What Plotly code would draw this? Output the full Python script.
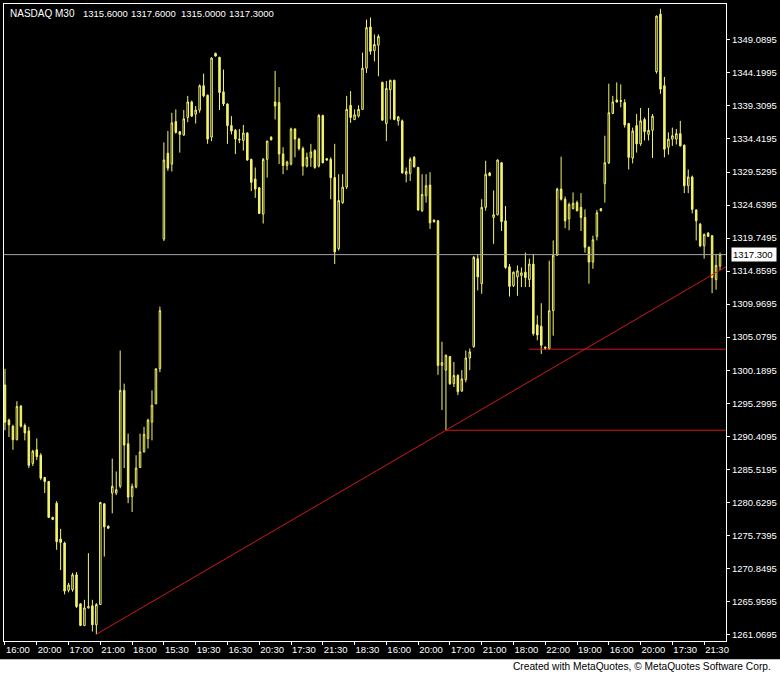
import plotly.graph_objects as go

# ---- data (NASDAQ M30 candles) ----
open_ = [1298.0, 1292.8, 1291.9, 1289.9, 1294.9, 1292.0, 1291.2, 1286.4, 1288.4, 1287.6,
         1284.3, 1283.7, 1278.1, 1280.5, 1275.2, 1274.6, 1267.6, 1267.7, 1269.9, 1265.6,
         1262.4, 1265.0, 1265.3, 1262.5, 1265.5, 1280.4, 1277.1, 1282.0, 1282.0, 1283.0,
         1297.2, 1289.3, 1281.5, 1282.9, 1285.8, 1288.1, 1290.1, 1292.5, 1295.2, 1300.4,
         1319.6, 1332.3, 1330.7, 1337.0, 1335.5, 1335.0, 1337.6, 1339.9, 1338.1, 1338.7,
         1342.3, 1340.9, 1334.7, 1347.1, 1346.5, 1341.4, 1339.6, 1336.4, 1335.7, 1334.4,
         1334.2, 1335.3, 1331.4, 1328.5, 1327.2, 1323.3, 1331.4, 1334.7, 1339.9, 1339.8,
         1332.2, 1330.5, 1330.7, 1335.9, 1334.4, 1333.0, 1330.4, 1331.7, 1332.7, 1330.4,
         1337.9, 1331.5, 1331.4, 1328.7, 1318.2, 1325.0, 1327.3, 1339.4, 1337.3, 1337.8,
         1338.8, 1344.9, 1351.0, 1347.5, 1348.3, 1342.8, 1336.7, 1341.7, 1343.1, 1337.1,
         1337.1, 1329.2, 1329.3, 1331.7, 1330.2, 1323.8, 1326.0, 1327.6, 1322.4, 1322.3,
         1300.9, 1300.2, 1302.2, 1298.2, 1299.4, 1297.1, 1298.8, 1302.0, 1303.7, 1316.7,
         1313.0, 1324.3, 1329.4, 1322.8, 1323.2, 1330.9, 1322.3, 1315.5, 1312.7, 1314.0,
         1314.2, 1314.7, 1313.6, 1315.9, 1306.9, 1306.7, 1303.4, 1303.4, 1309.0, 1317.2,
         1327.0, 1325.5, 1322.6, 1324.1, 1325.0, 1324.3, 1322.8, 1318.4, 1316.2, 1320.0,
         1324.1, 1327.8, 1330.9, 1338.2, 1340.2, 1340.1, 1339.8, 1336.7, 1331.6, 1336.4,
         1333.7, 1337.3, 1335.1, 1335.7, 1344.4, 1352.9, 1342.3, 1333.2, 1334.4, 1334.4,
         1335.2, 1333.5, 1327.5, 1328.8, 1323.9, 1321.8, 1318.6, 1320.5, 1320.1, 1313.6,
         1315.6]
high = [1300.4, 1293.0, 1292.1, 1295.6, 1295.0, 1292.3, 1291.8, 1288.4, 1290.1, 1287.9,
        1284.4, 1283.8, 1278.5, 1280.8, 1276.7, 1274.8, 1268.7, 1270.2, 1270.3, 1265.7,
        1266.2, 1273.1, 1266.2, 1265.7, 1280.7, 1280.5, 1277.2, 1287.1, 1285.2, 1303.1,
        1298.2, 1290.8, 1283.4, 1287.6, 1290.8, 1291.8, 1293.0, 1297.2, 1300.4, 1309.6,
        1333.9, 1335.6, 1338.3, 1338.8, 1335.6, 1338.7, 1340.8, 1340.1, 1339.3, 1342.5,
        1344.1, 1341.0, 1346.5, 1347.2, 1346.6, 1344.7, 1339.7, 1337.8, 1335.9, 1335.9,
        1336.5, 1335.4, 1331.5, 1330.2, 1327.3, 1331.6, 1334.2, 1334.8, 1344.5, 1342.1,
        1333.2, 1331.2, 1336.1, 1336.0, 1334.6, 1333.3, 1332.4, 1333.7, 1332.9, 1338.1,
        1338.0, 1331.6, 1331.7, 1333.7, 1329.2, 1329.2, 1340.8, 1341.5, 1338.8, 1339.4,
        1347.2, 1352.1, 1352.4, 1349.9, 1349.9, 1342.9, 1343.0, 1343.2, 1343.2, 1337.8,
        1337.3, 1330.2, 1331.7, 1331.9, 1330.3, 1329.2, 1329.2, 1329.5, 1322.5, 1322.4,
        1304.4, 1302.5, 1302.3, 1301.4, 1299.6, 1300.2, 1303.1, 1303.4, 1317.1, 1317.4,
        1325.5, 1331.2, 1329.5, 1326.8, 1331.4, 1331.0, 1324.5, 1315.9, 1314.8, 1315.7,
        1315.4, 1317.6, 1316.7, 1317.4, 1308.3, 1310.1, 1303.7, 1316.4, 1319.4, 1327.2,
        1331.8, 1325.9, 1325.0, 1326.5, 1325.3, 1326.4, 1324.0, 1318.5, 1320.1, 1323.9,
        1324.2, 1334.9, 1342.6, 1340.8, 1342.8, 1342.5, 1340.3, 1336.8, 1336.1, 1338.1,
        1339.0, 1337.6, 1339.0, 1338.1, 1352.7, 1353.7, 1343.6, 1335.4, 1336.1, 1335.9,
        1337.1, 1333.6, 1329.9, 1329.0, 1324.0, 1322.0, 1320.4, 1320.6, 1320.2, 1317.4,
        1317.6]
low = [1291.3, 1290.3, 1288.4, 1289.8, 1291.7, 1289.8, 1285.7, 1286.0, 1286.9, 1283.9,
       1282.0, 1278.3, 1278.0, 1273.6, 1270.6, 1267.0, 1267.3, 1267.4, 1265.0, 1262.3,
       1262.3, 1264.9, 1261.5, 1261.1, 1265.5, 1272.6, 1276.7, 1279.0, 1281.7, 1282.7,
       1285.7, 1280.5, 1279.2, 1282.7, 1285.7, 1288.0, 1288.6, 1289.8, 1295.2, 1299.9,
       1319.3, 1329.7, 1329.6, 1335.2, 1332.4, 1334.9, 1336.9, 1337.7, 1336.7, 1338.3,
       1340.6, 1333.7, 1334.1, 1346.6, 1338.7, 1339.3, 1333.7, 1335.1, 1332.2, 1333.8,
       1332.7, 1331.2, 1326.7, 1325.7, 1323.3, 1321.9, 1328.7, 1334.2, 1337.3, 1330.7,
       1329.2, 1329.8, 1330.5, 1331.7, 1332.7, 1329.0, 1330.2, 1330.3, 1330.0, 1330.2,
       1330.8, 1331.2, 1325.5, 1315.9, 1317.9, 1324.8, 1327.0, 1336.8, 1337.2, 1337.6,
       1338.7, 1344.2, 1346.9, 1345.9, 1343.7, 1337.1, 1334.1, 1337.3, 1337.2, 1336.4,
       1329.3, 1328.0, 1328.2, 1330.2, 1323.8, 1323.6, 1325.0, 1321.1, 1322.0, 1299.5,
       1294.3, 1291.3, 1298.0, 1297.7, 1296.5, 1297.0, 1298.4, 1300.2, 1303.5, 1312.0,
       1311.5, 1323.8, 1328.9, 1318.9, 1323.1, 1320.8, 1315.2, 1311.1, 1312.5, 1311.2,
       1312.5, 1312.5, 1312.5, 1305.3, 1304.6, 1302.6, 1303.2, 1303.2, 1305.3, 1317.2,
       1325.3, 1321.2, 1320.9, 1324.0, 1323.7, 1320.8, 1317.6, 1313.0, 1315.2, 1319.4,
       1323.7, 1325.0, 1330.7, 1338.1, 1339.8, 1339.1, 1336.1, 1329.9, 1330.8, 1332.4,
       1333.4, 1334.2, 1334.2, 1331.6, 1344.1, 1341.1, 1331.7, 1332.1, 1333.4, 1333.6,
       1333.3, 1326.4, 1326.4, 1323.4, 1319.4, 1318.4, 1316.7, 1319.9, 1311.6, 1312.1,
       1315.0]
close = [1292.5, 1292.1, 1289.9, 1294.8, 1291.9, 1290.9, 1286.1, 1288.2, 1287.4, 1284.2,
         1283.7, 1278.4, 1278.4, 1274.8, 1274.7, 1267.5, 1268.4, 1269.9, 1265.2, 1262.4,
         1265.0, 1265.2, 1262.5, 1265.5, 1280.6, 1277.0, 1276.8, 1283.0, 1282.5, 1297.2,
         1289.1, 1281.4, 1283.0, 1285.7, 1288.1, 1290.7, 1292.8, 1295.0, 1300.4, 1309.0,
         1331.3, 1330.1, 1336.8, 1335.4, 1335.1, 1337.4, 1339.9, 1337.8, 1338.7, 1342.3,
         1340.8, 1334.4, 1346.4, 1346.7, 1341.3, 1339.6, 1336.4, 1335.6, 1334.4, 1334.3,
         1335.3, 1331.3, 1328.0, 1327.0, 1323.4, 1331.4, 1334.1, 1334.3, 1339.3, 1332.2,
         1330.5, 1331.0, 1335.9, 1334.4, 1333.0, 1330.4, 1331.7, 1332.5, 1330.2, 1337.9,
         1330.9, 1331.3, 1328.7, 1317.7, 1325.3, 1327.3, 1338.8, 1337.6, 1338.0, 1338.8,
         1344.9, 1350.9, 1347.4, 1348.4, 1349.6, 1337.2, 1341.9, 1343.1, 1337.3, 1337.7,
         1329.4, 1329.6, 1331.4, 1330.3, 1323.9, 1326.2, 1327.5, 1322.0, 1322.2, 1300.9,
         1301.3, 1302.4, 1298.2, 1299.4, 1297.0, 1298.9, 1302.0, 1302.9, 1316.9, 1314.0,
         1324.3, 1329.2, 1329.0, 1323.2, 1331.3, 1322.2, 1315.4, 1312.6, 1314.7, 1314.9,
         1314.6, 1313.9, 1315.9, 1305.6, 1305.4, 1303.9, 1303.6, 1309.0, 1317.2, 1327.0,
         1325.5, 1322.3, 1324.7, 1324.9, 1323.8, 1322.8, 1318.4, 1316.2, 1319.5, 1323.5,
         1323.8, 1330.9, 1338.3, 1339.9, 1339.9, 1340.0, 1336.5, 1331.7, 1335.6, 1333.7,
         1337.1, 1335.5, 1335.7, 1337.8, 1352.6, 1341.8, 1332.9, 1334.4, 1334.9, 1335.2,
         1333.4, 1327.5, 1328.8, 1324.0, 1322.3, 1318.6, 1320.3, 1320.0, 1313.9, 1315.7,
         1317.3]
bars = list(range(len(open_)))

time_labels = ["16:00", "20:00", "17:00", "21:00", "18:00", "15:30", "19:30", "16:30",
               "20:30", "17:30", "21:30", "18:30", "16:00", "20:00", "17:00", "21:00",
               "18:00", "22:00", "19:00", "16:00", "20:00", "17:30", "21:30"]
time_label_bars = [0, 8, 16, 24, 32, 40, 48, 56, 64, 72, 80, 88, 96, 104, 112, 120,
                   128, 136, 144, 152, 160, 168, 176]
price_labels = ["1261.0695", "1265.9595", "1270.8495", "1275.7395", "1280.6295",
                "1285.5195", "1290.4095", "1295.2995", "1300.1895", "1305.0795",
                "1309.9695", "1314.8595", "1319.7495", "1324.6395", "1329.5295",
                "1334.4195", "1339.3095", "1344.1995", "1349.0895"]

symbol = "NASDAQ M30"
trend_bars = [23, 111]
trend_prices = [1261.1, 1291.3]
level_start_bars = [111, 132]
level_prices = [1291.3, 1303.3]

# ---- figure ----
YEL = "#f4f46c"
RED = "#d01818"
X_MIN, X_MAX = -0.25, 181.5
Y_MIN, Y_MAX = 1260.1, 1354.4

fig = go.Figure()

# last price line
fig.add_trace(go.Scatter(x=[X_MIN, X_MAX], y=[close[-1], close[-1]], mode="lines",
                         line=dict(color="#a4a4ac", width=1), hoverinfo="skip",
                         showlegend=False))

fig.add_trace(go.Candlestick(
    x=bars, open=open_, high=high, low=low, close=close,
    increasing=dict(line=dict(color=YEL, width=1), fillcolor="black"),
    decreasing=dict(line=dict(color=YEL, width=1), fillcolor=YEL),
    whiskerwidth=0, showlegend=False))

# trend line (ray through two lows)
slope = (trend_prices[1] - trend_prices[0]) / (trend_bars[1] - trend_bars[0])
fig.add_trace(go.Scatter(x=[trend_bars[0], X_MAX],
                         y=[trend_prices[0], trend_prices[0] + slope * (X_MAX - trend_bars[0])],
                         mode="lines", line=dict(color=RED, width=1),
                         hoverinfo="skip", showlegend=False))
for sb, lp in zip(level_start_bars, level_prices):
    fig.add_trace(go.Scatter(x=[sb, X_MAX], y=[lp, lp], mode="lines",
                             line=dict(color=RED, width=1), hoverinfo="skip",
                             showlegend=False))

FONT = "Liberation Sans"
fig.update_layout(
    width=780, height=675,
    margin=dict(l=3, r=50, t=3, b=34),
    paper_bgcolor="black", plot_bgcolor="black",
    boxgap=0.45,
    showlegend=False,
    font=dict(family=FONT, size=9, color="white"),
    xaxis=dict(range=[X_MIN, X_MAX], showgrid=False, zeroline=False,
               showline=True, linecolor="white", linewidth=1, mirror=True,
               tickmode="array", tickvals=time_label_bars, ticktext=time_labels,
               ticks="outside", ticklen=3, tickcolor="white", tickangle=0,
               ticklabelposition="outside right",
               tickfont=dict(family=FONT, size=9.5, color="white"),
               rangeslider=dict(visible=False), fixedrange=True),
    yaxis=dict(range=[Y_MIN, Y_MAX], side="right", showgrid=False, zeroline=False,
               showline=True, linecolor="white", linewidth=1, mirror=True,
               tickmode="array", tickvals=[float(v) for v in price_labels],
               ticktext=price_labels, ticks="outside", ticklen=3, tickcolor="white",
               tickfont=dict(family=FONT, size=9.5, color="white"), fixedrange=True),
)

# white footer strip
fig.add_shape(type="rect", xref="paper", yref="paper", x0=-0.02, x1=1.1,
              y0=-0.07, y1=-0.0285, fillcolor="white", line=dict(width=0), layer="above")

def px_to_xpaper(px):
    return (px - 3) / 727.0

def py_to_ypaper(py):
    return (641 - py) / 638.0

header_items = [symbol, f"{open_[-1]:.4f}", f"{high[-1]:.4f}", f"{low[-1]:.4f}", f"{close[-1]:.4f}"]
header_px = [7, 81, 129, 179, 228]
header_sizes = [10, 9.5, 9.5, 9.5, 9.5]
for txt, hx, fs in zip(header_items, header_px, header_sizes):
    fig.add_annotation(text=txt, xref="paper", yref="paper", x=px_to_xpaper(hx),
                       y=py_to_ypaper(13), xanchor="left", yanchor="middle",
                       showarrow=False, font=dict(family=FONT, size=fs, color="white"))

# last price label box
fig.add_annotation(text=f"{close[-1]:.3f}", xref="paper", yref="y", x=1, y=close[-1],
                   xanchor="left", yanchor="middle", xshift=5, showarrow=False,
                   bgcolor="white", borderpad=1, width=42, align="left",
                   font=dict(family=FONT, size=9.5, color="black"))

fig.add_annotation(text="Created with MetaQuotes, © MetaQuotes Software Corp.",
                   xref="paper", yref="paper", x=px_to_xpaper(777), y=py_to_ypaper(667),
                   xanchor="right", yanchor="middle", showarrow=False,
                   font=dict(family=FONT, size=10.2, color="black"))

fig.write_html("out.html", config={"displayModeBar": False},
               post_script="document.body.style.margin='0px';document.body.style.background='black';")
